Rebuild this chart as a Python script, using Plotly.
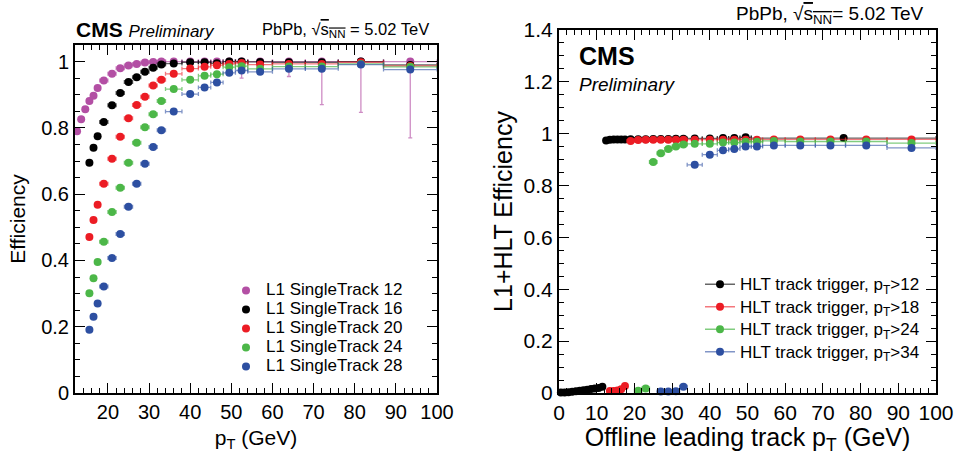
import plotly.graph_objects as go

# ---------------- Left panel: L1 SingleTrack efficiency ----------------
L_X = [12.5, 13.5, 14.5, 15.5, 16.5, 17.5, 19, 21, 23, 25, 27, 29, 31, 33,
       36, 40, 43.5, 46.5, 49.5, 52.5, 57, 64, 72, 81.5, 93.5]
L_XERR = [0.5, 0.5, 0.5, 0.5, 0.5, 0.5, 1, 1, 1, 1, 1, 1, 1, 1,
          2, 2, 1.5, 1.5, 1.5, 1.5, 3, 4, 4, 5.5, 6.5]

L1_12 = [0.790, 0.826, 0.856, 0.881, 0.897, 0.920, 0.943, 0.963, 0.980, 0.988,
         0.993, 0.997, 0.999, 1.000, 1.000, 1.000, 1.000, 1.000, 1.000, 1.000,
         1.000, 1.000, 1.000, 1.000, 1.000]
L1_12_ERRLO = [0.005, 0.005, 0.005, 0.005, 0.005, 0.005, 0.004, 0.004, 0.003, 0.003,
               0.003, 0.002, 0.002, 0.002, 0.004, 0.005, 0.005, 0.005, 0.010, 0.050,
               0.010, 0.045, 0.130, 0.153, 0.230]
# series below start at the 15-16 GeV bin
L1_16 = [0.695, 0.740, 0.775, 0.818, 0.868, 0.905, 0.938, 0.953, 0.969, 0.981,
         0.991, 0.994, 0.998, 0.998, 0.995, 1.000, 1.000, 0.999, 0.998, 0.998,
         1.000, 0.990]
L1_20 = [0.471, 0.522, 0.568, 0.631, 0.707, 0.773, 0.829, 0.869, 0.894, 0.928,
         0.945, 0.963, 0.979, 0.984, 0.989, 0.993, 0.996, 0.991, 0.993, 0.993,
         0.998, 0.987]
L1_24 = [0.301, 0.346, 0.395, 0.456, 0.546, 0.619, 0.695, 0.755, 0.802, 0.841,
         0.881, 0.917, 0.945, 0.957, 0.962, 0.983, 0.986, 0.978, 0.985, 0.985,
         0.993, 0.984]
L1_28 = [0.191, 0.230, 0.270, 0.321, 0.407, 0.480, 0.562, 0.631, 0.692, 0.742,
         0.793, 0.849, 0.902, 0.922, 0.937, 0.966, 0.973, 0.969, 0.978, 0.978,
         0.991, 0.976]
L_NAMES = ["L1 SingleTrack 12", "L1 SingleTrack 16", "L1 SingleTrack 20",
           "L1 SingleTrack 24", "L1 SingleTrack 28"]

# ---------------- Right panel: L1+HLT efficiency ----------------
HLT12_X = [0.5, 1.5, 2.5, 3.5, 4.5, 5.5, 6.5, 7.5, 8.5, 9.5, 10.5, 11.5,
           12.5, 13.5, 14.5, 15.5, 16.5, 17.5, 19, 21, 23, 25, 27, 29, 31, 33,
           36, 40, 43.5, 46.5, 49.5, 75.5]
HLT12_XERR = [0.5, 0.5, 0.5, 0.5, 0.5, 0.5, 0.5, 0.5, 0.5, 0.5, 0.5, 0.5,
              0.5, 0.5, 0.5, 0.5, 0.5, 0.5, 1, 1, 1, 1, 1, 1, 1, 1,
              2, 2, 1.5, 1.5, 1.5, 24.5]
HLT12_EFF = [0.002, 0.002, 0.003, 0.005, 0.007, 0.009, 0.011, 0.013, 0.015, 0.017, 0.019, 0.024,
             0.974, 0.977, 0.978, 0.978, 0.978, 0.978, 0.979, 0.979, 0.979, 0.980, 0.980, 0.980,
             0.981, 0.981, 0.982, 0.982, 0.983, 0.983, 0.986, 0.983]

HLT18_X = [13.5, 14.5, 15.5, 16.5, 17.5, 19, 21, 23, 25, 27, 29, 31, 33,
           36, 40, 43.5, 46.5, 49.5, 52.5, 57, 64, 72, 81.5, 93.5]
HLT18_XERR = [0.5, 0.5, 0.5, 0.5, 0.5, 1, 1, 1, 1, 1, 1, 1, 1,
              2, 2, 1.5, 1.5, 1.5, 1.5, 3, 4, 4, 5.5, 6.5]
HLT18_EFF = [0.008, 0.008, 0.010, 0.014, 0.027, 0.972, 0.976, 0.977, 0.977, 0.977, 0.977, 0.977,
             0.977, 0.977, 0.977, 0.977, 0.977, 0.977, 0.977, 0.978, 0.978, 0.978, 0.978, 0.978]

HLT24_X = [21, 23, 25, 27, 29, 31, 33, 36, 40, 43.5, 46.5, 49.5, 52.5, 57, 64, 72, 81.5, 93.5]
HLT24_XERR = [1, 1, 1, 1, 1, 1, 1, 2, 2, 1.5, 1.5, 1.5, 1.5, 3, 4, 4, 5.5, 6.5]
HLT24_EFF = [0.009, 0.017, 0.891, 0.925, 0.941, 0.951, 0.958, 0.961, 0.961, 0.966, 0.966,
             0.969, 0.969, 0.972, 0.970, 0.970, 0.970, 0.964]

HLT34_X = [27, 29, 31, 33, 36, 40, 43.5, 46.5, 49.5, 52.5, 57, 64, 72, 81.5, 93.5]
HLT34_XERR = [1, 1, 1, 1, 2, 2, 1.5, 1.5, 1.5, 1.5, 3, 4, 4, 5.5, 6.5]
HLT34_EFF = [0.006, 0.006, 0.007, 0.024, 0.880, 0.919, 0.936, 0.941, 0.951, 0.951, 0.955,
             0.955, 0.955, 0.955, 0.945]
R_NAMES = ["HLT track trigger, p<sub>T</sub>>12", "HLT track trigger, p<sub>T</sub>>18",
           "HLT track trigger, p<sub>T</sub>>24", "HLT track trigger, p<sub>T</sub>>34"]

# ---------------- styling ----------------
FONT = "Liberation Sans, Arial, Helvetica, sans-serif"
C_MAG = "#B34FA4"
C_BLK = "#000000"
C_RED = "#EC1C24"
C_GRN = "#4CB748"
C_BLU = "#2D4FA1"
C_MAG_E = "rgba(179,79,164,0.65)"
C_BLK_E = "rgba(0,0,0,0.6)"
C_RED_E = "rgba(236,28,36,0.6)"
C_GRN_E = "rgba(76,183,72,0.7)"
C_BLU_E = "rgba(45,79,161,0.6)"

fig = go.Figure()

left_series = [
    (L_X, L_XERR, L1_12, L1_12_ERRLO, C_MAG, C_MAG_E, L_NAMES[0]),
    (L_X[3:], L_XERR[3:], L1_16, None, C_BLK, C_BLK_E, L_NAMES[1]),
    (L_X[3:], L_XERR[3:], L1_20, None, C_RED, C_RED_E, L_NAMES[2]),
    (L_X[3:], L_XERR[3:], L1_24, None, C_GRN, C_GRN_E, L_NAMES[3]),
    (L_X[3:], L_XERR[3:], L1_28, None, C_BLU, C_BLU_E, L_NAMES[4]),
]
for xs, xe, ys, ylo, col, ecol, name in left_series:
    ey = None
    if ylo is not None:
        ey = dict(type="data", symmetric=False, array=[0] * len(ylo), arrayminus=ylo,
                  color=ecol, thickness=1.3, width=2)
    fig.add_trace(go.Scatter(
        x=xs, y=ys, mode="markers", xaxis="x", yaxis="y",
        marker=dict(color=col, size=8, line=dict(width=0)),
        error_x=dict(type="data", array=xe, color=ecol, thickness=1.3, width=2),
        error_y=ey, cliponaxis=False,
        name='<span style="font-size:17px">' + name + '</span>',
        legend="legend", showlegend=True))

right_series = [
    (HLT12_X, HLT12_XERR, HLT12_EFF, C_BLK, C_BLK_E, R_NAMES[0]),
    (HLT18_X, HLT18_XERR, HLT18_EFF, C_RED, C_RED_E, R_NAMES[1]),
    (HLT24_X, HLT24_XERR, HLT24_EFF, C_GRN, C_GRN_E, R_NAMES[2]),
    (HLT34_X, HLT34_XERR, HLT34_EFF, C_BLU, C_BLU_E, R_NAMES[3]),
]
for xs, xe, ys, col, ecol, name in right_series:
    fig.add_trace(go.Scatter(
        x=xs, y=ys, mode="markers", xaxis="x2", yaxis="y2",
        marker=dict(color=col, size=8, line=dict(width=0)),
        error_x=dict(type="data", array=xe, color=ecol, thickness=1.3, width=2),
        cliponaxis=False, showlegend=False, name=name))
# legend entries (ROOT "lp" style: line + marker)
for xs, xe, ys, col, ecol, name in right_series:
    fig.add_trace(go.Scatter(
        x=[None], y=[None], mode="lines+markers", xaxis="x2", yaxis="y2",
        marker=dict(color=col, size=8), line=dict(color=ecol, width=1.5),
        name='<span style="font-size:17px">' + name + '</span>',
        legend="legend2", showlegend=True))

axis_common = dict(
    showline=True, linecolor="black", linewidth=2, mirror="allticks",
    ticks="inside", ticklen=10, tickwidth=1, tickcolor="black",
    showgrid=False, zeroline=False, automargin=False,
    minor=dict(ticks="inside", ticklen=5, tickwidth=1, tickcolor="black", showgrid=False),
)

fig.update_layout(
    width=964, height=455, margin=dict(l=0, r=0, t=0, b=0, autoexpand=False),
    paper_bgcolor="white", plot_bgcolor="white",
    font=dict(family=FONT, color="black"),
    xaxis=dict(domain=[75 / 964, 437 / 964], range=[12, 100], anchor="y",
               tick0=0, dtick=10, minor_dtick=2, tickfont=dict(size=20),
               title=dict(text="p<sub>T</sub> (GeV)", font=dict(size=21), standoff=8),
               **axis_common),
    yaxis=dict(domain=[62 / 455, 410 / 455], range=[0, 1.05], anchor="x",
               tick0=0, dtick=0.2, minor_dtick=0.05, tickfont=dict(size=20),
               title=dict(text="Efficiency", font=dict(size=21), standoff=10),
               **axis_common),
    xaxis2=dict(domain=[559 / 964, 936 / 964], range=[0, 100], anchor="y2",
                tick0=0, dtick=10, minor_dtick=2, tickfont=dict(size=21),
                title=dict(text="Offline leading track p<sub>T</sub> (GeV)", font=dict(size=25), standoff=6),
                **axis_common),
    yaxis2=dict(domain=[62 / 455, 425 / 455], range=[0, 1.4], anchor="x2",
                tick0=0, dtick=0.2, minor_dtick=0.05, tickfont=dict(size=21),
                title=dict(text="L1+HLT Efficiency", font=dict(size=25), standoff=4),
                **axis_common),
    legend=dict(x=226 / 964, y=1 - 276 / 455, xanchor="left", yanchor="top",
                bgcolor="rgba(0,0,0,0)", font=dict(size=12, family=FONT),
                itemwidth=30, traceorder="normal"),
    legend2=dict(x=700 / 964, y=1 - 268 / 455, xanchor="left", yanchor="top",
                 bgcolor="rgba(0,0,0,0)", font=dict(size=15, family=FONT),
                 itemwidth=30, traceorder="normal"),
)

SQRT = "√<span style='text-decoration:overline'>s<sub>NN</sub></span>"
fig.add_annotation(xref="paper", yref="paper", x=74 / 964, y=1 - 30 / 455,
                   xanchor="left", yanchor="middle", showarrow=False,
                   text="<b>CMS</b> <i><span style='font-size:17px'>Preliminary</span></i>",
                   font=dict(size=21, family=FONT))
fig.add_annotation(xref="paper", yref="paper", x=431 / 964, y=1 - 30 / 455,
                   xanchor="right", yanchor="middle", showarrow=False,
                   text="PbPb, " + SQRT + " = 5.02 TeV", font=dict(size=16.5, family=FONT))
fig.add_annotation(xref="paper", yref="paper", x=926 / 964, y=1 - 15 / 455,
                   xanchor="right", yanchor="middle", showarrow=False,
                   text="PbPb, " + SQRT + "= 5.02 TeV", font=dict(size=19, family=FONT))
fig.add_annotation(xref="paper", yref="paper", x=577 / 964, y=1 - 56 / 455,
                   xanchor="left", yanchor="middle", showarrow=False,
                   text="<b>CMS</b>", font=dict(size=25, family=FONT))
fig.add_annotation(xref="paper", yref="paper", x=577 / 964, y=1 - 84 / 455,
                   xanchor="left", yanchor="middle", showarrow=False,
                   text="<i>Preliminary</i>", font=dict(size=19, family=FONT))

fig.write_html("out.html", config={"displayModeBar": False},
               post_script="document.body.style.margin='0';document.body.style.overflow='hidden';")
